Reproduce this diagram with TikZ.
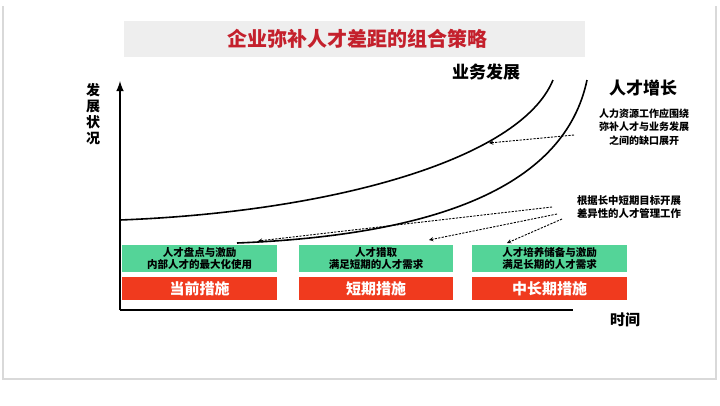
\documentclass[tikz,border=0pt]{standalone}
\usepackage{fontspec}
\setmainfont{Noto Sans CJK SC}
\usepackage{tikz}

\definecolor{boxgreen}{RGB}{84,212,152}
\definecolor{boxred}{RGB}{240,58,30}
\definecolor{titlered}{RGB}{196,32,44}
\definecolor{titlegray}{RGB}{238,238,238}
\newcommand{\sizept}[2]{\fontsize{#1}{#2}\selectfont}

\begin{document}
\begin{tikzpicture}[x=1pt,y=-1pt]
	\usetikzlibrary{graphs}
	\usetikzlibrary{backgrounds}
	\tikzset{
		greenbox/.style={rectangle, fill=boxgreen, minimum width=155, minimum height=27, inner sep=0, align=center, font=\sizept{10.5}{11.5}\bfseries},
		redbox/.style={rectangle, fill=boxred, text=white, minimum width=155, minimum height=23, inner sep=0, font=\sizept{15}{15}\bfseries},
		note/.style={inner sep=0, align=center, font=\sizept{10}{13.5}\bfseries},
		dasharrow/.style={dashed, dash pattern=on 2.2pt off 1.3pt, line width=0.9, -stealth}
	}
	\useasboundingbox (0,0) rectangle (720,405);
		\begin {scope} [on background layer]
		\fill [white] (0,0) rectangle (720,405);
		\draw [gray!30, line width=1.2] (3,6) -- (3,379) -- (716,379) -- (716,6);
		\end {scope}
	
	\node [name=titlebox, rectangle, fill=titlegray, minimum width=461, minimum height=36, inner sep=0] at (354.5,39) {};
	\node [name=title, text=titlered, font=\sizept{20}{20}\bfseries, inner sep=0] at (357,39) {企业弥补人才差距的组合策略};
	
	% axes
	\coordinate (origin) at (120,310);
	\coordinate (ytop) at (120,81);
	\coordinate (xend) at (573,310);
	\draw [line width=2.4, -latex] (origin) -- (ytop);
	\draw [line width=2.4] (origin) -- (xend);
	\node [name=ylabel, inner sep=0, align=center, font=\sizept{14}{16}\bfseries] at (93,114) {发\\展\\状\\况};
	\node [name=xlabel, inner sep=0, font=\sizept{15}{15}\bfseries] at (625,320) {时间};
	
	% curves
	\coordinate (bizstart) at (120,220);
	\coordinate (bizend) at (553,80);
	\coordinate (talstart) at (237,243);
	\coordinate (talend) at (587,80);
	\draw [line width=1.6] (bizstart) .. controls (330,212) and (520,160) .. (bizend);
	\draw [line width=1.6] (talstart) .. controls (440,235) and (565,185) .. (talend);
	\node [name=bizlabel, inner sep=0, font=\sizept{17}{17}\bfseries] at (486,72) {业务发展};
	\node [name=tallabel, inner sep=0, font=\sizept{17}{17}\bfseries] at (643,88) {人才增长};
	
	\node [name=gapnote, note] at (644,127) {人力资源工作应围绕\\弥补人才与业务发展\\之间的缺口展开};
	\node [name=termnote, note, font=\sizept{10.4}{12.5}\bfseries] at (629,207) {根据长中短期目标开展\\差异性的人才管理工作};
	
	% measures
	\node [name=green1, greenbox] at (199.5,258.5) {人才盘点与激励\\内部人才的最大化使用};
	\node [name=green2, greenbox, minimum width=154] at (376,258.5) {人才猎取\\满足短期的人才需求};
	\node [name=green3, greenbox] at (549.5,258.5) {人才培养储备与激励\\满足长期的人才需求};
	\node [name=red1, redbox] at (199.5,288.5) {当前措施};
	\node [name=red2, redbox, minimum width=154] at (376,288.5) {短期措施};
	\node [name=red3, redbox] at (549.5,288.5) {中长期措施};
	
	% dashed pointers
	\coordinate (gapfrom) at (574,135);
	\coordinate (gapto) at (489,143);
	\coordinate (termfrom1) at (552,207);
	\coordinate (termfrom2) at (557,214);
	\coordinate (termfrom3) at (562,219);
	\coordinate (termto1) at (258,241);
	\coordinate (termto2) at (429,240);
	\coordinate (termto3) at (507,243);
	
	\graph {(gapfrom)->[dasharrow] (gapto)};
	\graph {(termfrom1)->[dasharrow] (termto1)};
	\graph {(termfrom2)->[dasharrow] (termto2)};
	\graph {(termfrom3)->[dasharrow] (termto3)};
	
\end{tikzpicture}
\end{document}
